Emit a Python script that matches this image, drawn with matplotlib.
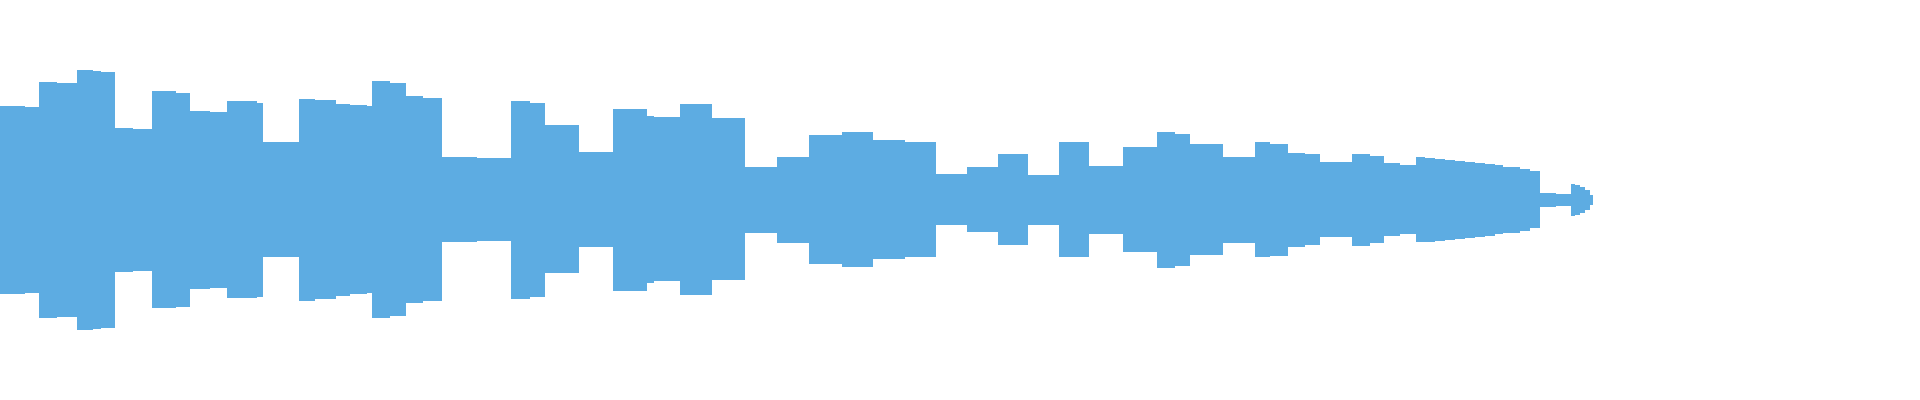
import numpy as np
import matplotlib; matplotlib.use('Agg')
import matplotlib.pyplot as plt

# waveform envelope: start sample of each step,
# positive peak and negative peak (same units, centre line = 0)
seg_x = [0, 25, 39, 57, 77, 93, 101, 115, 133, 152, 176, 190, 210, 227, 257,
         263, 299, 315, 336, 350, 367, 372, 390, 406, 423, 442, 477, 511, 530,
         545, 579, 613, 647, 654, 680, 712, 745, 777, 809, 842, 873, 905, 936,
         967, 998, 1028, 1059, 1089, 1123, 1157, 1175, 1190, 1223, 1255, 1270,
         1288, 1305, 1320, 1352, 1370, 1384, 1400, 1416, 1425, 1435, 1445, 1455,
         1465, 1475, 1485, 1495, 1503, 1510, 1520, 1530, 1540, 1556, 1571, 1575,
         1580, 1585, 1590]
amp_top = [94, 93, 118, 117, 130, 129, 128, 72, 71, 109, 107, 89, 88, 99, 97,
           58, 101, 100, 96, 95, 94, 119, 117, 104, 102, 43, 42, 99, 97,
           75, 48, 91, 84, 83, 96, 82, 33, 43, 65, 68, 60, 58, 26,
           33, 46, 25, 58, 34, 53, 68, 66, 56, 43, 58, 56,
           47, 46, 38, 46, 44, 37, 35, 43, 42, 41, 40, 39,
           38, 37, 36, 35, 33, 33, 31, 29, 7, 6, 16, 15,
           13, 10, 5]
amp_bottom = [94, 93, 118, 117, 130, 129, 128, 72, 71, 108, 107, 89, 88, 98, 97,
              57, 101, 99, 96, 94, 93, 118, 116, 103, 101, 42, 41, 99, 97,
              73, 47, 91, 83, 81, 95, 80, 33, 43, 64, 67, 59, 57, 25,
              32, 45, 25, 57, 34, 52, 68, 66, 55, 43, 57, 56,
              47, 45, 37, 46, 43, 36, 34, 42, 42, 41, 40, 39,
              38, 37, 36, 34, 33, 33, 31, 28, 7, 6, 16, 15,
              13, 10, 5]
x_end = 1593

x = np.array(seg_x + [x_end])
top = np.array(amp_top + [amp_top[-1]])
bot = -np.array(amp_bottom + [amp_bottom[-1]])

fig = plt.figure(figsize=(19.2, 4), dpi=100)
ax = fig.add_axes([0, 0, 1, 1])
ax.fill_between(x, top, bot, step='post', color='#5dace2', linewidth=0)
ax.set_xlim(0, 1920)
ax.set_ylim(-200, 200)
ax.axis('off')
fig.savefig('out.png', dpi=100)
